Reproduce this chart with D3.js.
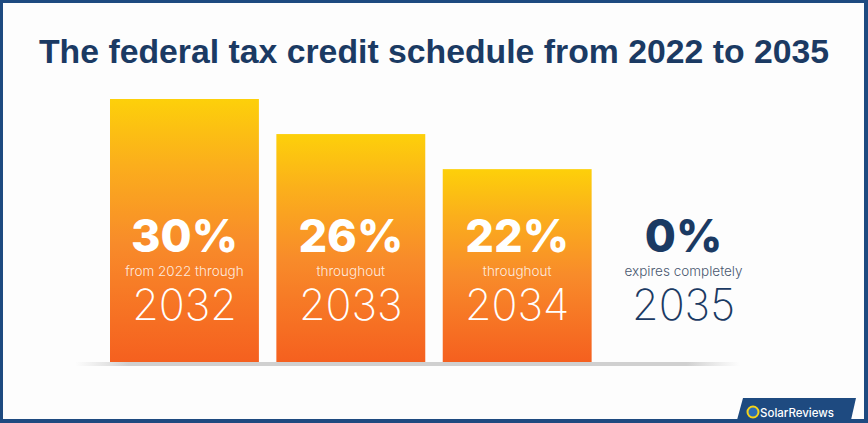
<!DOCTYPE html>
<html><head><meta charset="utf-8">
<script src="https://cdn.jsdelivr.net/npm/d3@7/dist/d3.min.js"></script>
<style>html,body{margin:0;padding:0;background:#fff;}svg{display:block;}</style>
</head><body>
<svg id="chart" width="868" height="423"></svg>
<script>
const title = "The federal tax credit schedule from 2022 to 2035";
const years = ["2032", "2033", "2034", "2035"];
const values = [30, 26, 22, 0];
const percentLabels = ["30%", "26%", "22%", "0%"];
const subLabels = ["from 2022 through", "throughout", "throughout", "expires completely"];

const W = 868, H = 423;
const svg = d3.select("#chart");
const navy = "#1b3a63";

// background & border
svg.append("rect").attr("x", 0).attr("y", 0).attr("width", W).attr("height", H).attr("fill", "#1e4a80");
svg.append("rect").attr("x", 3).attr("y", 3).attr("width", W - 7).attr("height", H - 7).attr("fill", "#fdfdfd");

const defs = svg.append("defs");
const grad = defs.append("linearGradient").attr("id", "barGrad")
  .attr("x1", 0).attr("y1", 0).attr("x2", 0).attr("y2", 1);
grad.append("stop").attr("offset", "0%").attr("stop-color", "#fdd00a");
grad.append("stop").attr("offset", "25%").attr("stop-color", "#fbae1c");
grad.append("stop").attr("offset", "55%").attr("stop-color", "#f88b2a");
grad.append("stop").attr("offset", "100%").attr("stop-color", "#f5601f");

const shadowGrad = defs.append("linearGradient").attr("id", "shadowGrad")
  .attr("x1", 0).attr("y1", 0).attr("x2", 1).attr("y2", 0);
shadowGrad.append("stop").attr("offset", "0%").attr("stop-color", "#d8d8d8").attr("stop-opacity", 0);
shadowGrad.append("stop").attr("offset", "8%").attr("stop-color", "#d0d0d0").attr("stop-opacity", 1);
shadowGrad.append("stop").attr("offset", "92%").attr("stop-color", "#d0d0d0").attr("stop-opacity", 1);
shadowGrad.append("stop").attr("offset", "100%").attr("stop-color", "#d8d8d8").attr("stop-opacity", 0);

// title
svg.append("text")
  .attr("x", 434).attr("y", 63)
  .attr("text-anchor", "middle")
  .attr("font-family", "'Liberation Sans Narrow', 'Liberation Sans', Arial, sans-serif")
  .attr("font-weight", 700)
  .attr("font-size", 34)
  .attr("fill", navy)
  .attr("textLength", 790)
  .attr("lengthAdjust", "spacingAndGlyphs")
  .text(title);

const x = d3.scaleBand().domain(years).range([110, 758]).paddingInner(0.105).paddingOuter(0);
const y = d3.scaleLinear().domain([0, 30]).range([362, 99]);

// baseline shadow
svg.append("rect").attr("x", 75).attr("y", y(0)).attr("width", 665).attr("height", 4)
  .attr("fill", "url(#shadowGrad)");

// bars
svg.selectAll("rect.bar").data(years).enter().append("rect")
  .attr("class", "bar")
  .attr("x", d => x(d))
  .attr("y", (d, i) => y(values[i]))
  .attr("width", x.bandwidth())
  .attr("height", (d, i) => y(0) - y(values[i]))
  .attr("fill", "url(#barGrad)");

const g = svg.selectAll("g.lab").data(years).enter().append("g")
  .attr("class", "lab")
  .attr("transform", d => `translate(${x(d) + x.bandwidth() / 2},0)`);

g.append("text")
  .attr("y", 252).attr("text-anchor", "middle")
  .attr("font-family", "Inter, 'Open Sans', sans-serif")
  .attr("font-weight", 800).attr("font-size", 45)
  .attr("fill", (d, i) => values[i] > 0 ? "#ffffff" : navy)
  .text((d, i) => percentLabels[i]);

g.append("text")
  .attr("y", 276).attr("text-anchor", "middle")
  .attr("font-family", "Inter, 'Open Sans', sans-serif")
  .attr("font-weight", 300).attr("font-size", 13.5)
  .attr("fill", (d, i) => values[i] > 0 ? "rgba(255,255,255,0.85)" : "#4a5870")
  .text((d, i) => subLabels[i]);

g.append("text")
  .attr("y", 320).attr("text-anchor", "middle")
  .attr("font-family", "Inter, 'Open Sans', sans-serif")
  .attr("font-weight", 200).attr("font-size", 43)
  .attr("fill", (d, i) => values[i] > 0 ? "#ffffff" : navy)
  .text(d => d);

// logo
const logo = svg.append("g");
logo.append("path").attr("d", "M743,398 L856,398 L851,420 L737,420 Z").attr("fill", "#1e4a80");
logo.append("circle").attr("cx", 753).attr("cy", 412).attr("r", 5.5).attr("fill", "#2c6cb5")
  .attr("stroke", "#f5d318").attr("stroke-width", 2);
logo.append("text").attr("x", 760).attr("y", 416.5)
  .attr("font-family", "Inter, 'Open Sans', sans-serif").attr("font-size", 11.5)
  .attr("font-weight", 500).attr("fill", "#ffffff").text("SolarReviews");
</script>
</body></html>
